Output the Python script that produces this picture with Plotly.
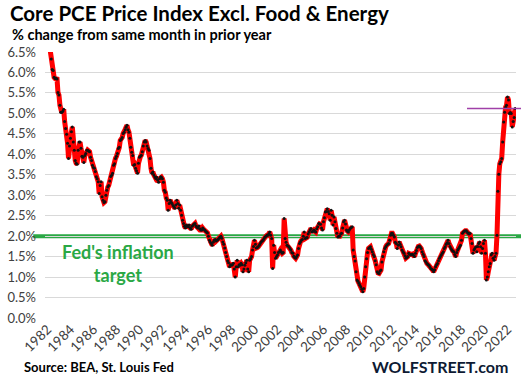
import pandas as pd
import plotly.graph_objects as go

# Core PCE price index excl. food & energy, % change YoY, monthly Jan 1982 - Sep 2022
core_1980s = [
    7.0, 6.85, 6.7, 6.55, 6.33, 6.07, 6.05, 5.88, 5.85, 5.86, 5.84, 5.51,      # 1982
    5.45, 5.2, 5.03, 5.02, 5.05, 5.1, 4.8, 4.63, 4.49, 4.27, 3.9, 4.2,         # 1983
    4.39, 4.55, 4.67, 4.3, 4.1, 3.85, 3.78, 3.76, 4.1, 4.3, 4.3, 4.15,         # 1984
    3.95, 3.93, 3.8, 3.97, 4.02, 4.1, 4.1, 4.08, 4.06, 3.93, 3.85, 3.73,       # 1985
    3.68, 3.66, 3.58, 3.45, 3.4, 3.33, 3.04, 3.24, 3.33, 2.96, 2.88, 2.82,     # 1986
    2.84, 3.0, 3.12, 3.2, 3.24, 3.35, 3.46, 3.49, 3.54, 3.73, 3.77, 3.9,       # 1987
    3.95, 4.02, 4.14, 4.17, 4.34, 4.37, 4.41, 4.51, 4.54, 4.6, 4.66, 4.71,     # 1988
    4.6, 4.54, 4.39, 4.17, 4.05, 3.97, 3.73, 3.75, 3.66, 3.6, 3.54, 3.78,      # 1989
]
core_1990s = [
    3.93, 3.95, 3.98, 4.06, 4.2, 4.3, 4.34, 4.3, 4.2, 4.14, 4.1, 3.9,          # 1990
    3.66, 3.54, 3.57, 3.5, 3.45, 3.41, 3.44, 3.37, 3.32, 3.4, 3.45, 3.44,      # 1991
    3.4, 3.32, 3.12, 3.07, 2.93, 2.88, 2.63, 2.8, 2.88, 2.83, 2.8, 2.75,       # 1992
    2.71, 2.68, 2.76, 2.88, 2.8, 2.68, 2.76, 2.63, 2.51, 2.39, 2.31, 2.24,     # 1993
    2.2, 2.27, 2.24, 2.23, 2.27, 2.2, 2.17, 2.24, 2.27, 2.3, 2.31, 2.25,       # 1994
    2.22, 2.2, 2.25, 2.18, 2.15, 2.15, 2.2, 2.17, 2.15, 2.12, 2.1, 2.08,       # 1995
    2.0, 1.9, 1.85, 1.82, 1.78, 1.85, 1.9, 1.92, 1.88, 1.9, 1.92, 1.95,        # 1996
    1.98, 2.0, 1.95, 1.86, 1.8, 1.71, 1.6, 1.5, 1.4, 1.35, 1.25, 1.3,          # 1997
    1.29, 1.3, 1.34, 1.2, 1.0, 1.25, 1.41, 1.25, 1.3, 1.29, 1.34, 1.3,         # 1998
    1.13, 1.2, 1.29, 1.35, 1.41, 1.2, 1.13, 1.41, 1.45, 1.5, 1.66, 1.75,       # 1999
]
core_2000s = [
    1.9, 1.8, 1.71, 1.72, 1.74, 1.78, 1.82, 1.86, 1.88, 1.9, 1.94, 1.98,       # 2000
    2.0, 2.02, 2.02, 2.06, 2.1, 2.02, 1.94, 1.21, 1.78, 1.6, 1.46, 1.5,        # 2001
    1.54, 1.6, 1.62, 1.66, 1.62, 1.58, 1.6, 2.43, 1.94, 1.85, 1.78, 1.76,      # 2002
    1.74, 1.7, 1.66, 1.6, 1.58, 1.51, 1.48, 1.46, 1.5, 1.54, 1.7, 1.82,        # 2003
    1.86, 1.9, 1.92, 2.0, 2.1, 1.94, 1.96, 1.97, 2.05, 2.1, 2.15, 2.19,        # 2004
    2.1, 2.12, 2.15, 2.12, 2.1, 2.18, 2.23, 2.31, 2.3, 2.29, 2.2, 2.15,        # 2005
    2.35, 2.45, 2.59, 2.6, 2.67, 2.6, 2.55, 2.39, 2.63, 2.51, 2.27, 2.47,      # 2006
    2.35, 2.19, 2.07, 1.98, 2.0, 2.0, 2.05, 2.07, 2.2, 2.35, 2.39, 2.3,        # 2007
    2.15, 2.12, 2.1, 2.15, 2.19, 2.21, 2.23, 1.66, 1.5, 1.39, 1.13, 0.93,      # 2008
    0.9, 0.85, 0.8, 0.76, 0.7, 0.64, 0.72, 1.0, 1.25, 1.45, 1.6, 1.7,          # 2009
]
core_2010s = [
    1.72, 1.74, 1.68, 1.62, 1.55, 1.5, 1.4, 1.3, 1.13, 1.1, 1.09, 1.15,        # 2010
    1.17, 1.37, 1.5, 1.62, 1.7, 1.74, 1.78, 1.8, 1.82, 1.9, 2.02, 2.07,        # 2011
    2.07, 2.02, 1.98, 1.85, 1.82, 1.7, 1.78, 1.86, 1.8, 1.74, 1.66, 1.62,      # 2012
    1.58, 1.52, 1.46, 1.48, 1.5, 1.58, 1.56, 1.54, 1.55, 1.56, 1.53, 1.5,      # 2013
    1.58, 1.65, 1.72, 1.75, 1.76, 1.74, 1.7, 1.62, 1.56, 1.5, 1.4, 1.37,       # 2014
    1.33, 1.31, 1.29, 1.25, 1.21, 1.19, 1.17, 1.13, 1.18, 1.25, 1.3, 1.33,     # 2015
    1.4, 1.46, 1.5, 1.54, 1.58, 1.62, 1.7, 1.74, 1.8, 1.84, 1.9, 1.82,         # 2016
    1.75, 1.7, 1.66, 1.64, 1.62, 1.55, 1.5, 1.6, 1.66, 1.7, 1.74, 1.78,        # 2017
    1.9, 2.07, 2.1, 2.12, 2.13, 2.13, 2.1, 2.07, 2.05, 2.07, 1.94, 1.82,       # 2018
    1.58, 1.66, 1.7, 1.74, 1.62, 1.75, 1.82, 1.86, 1.74, 1.58, 1.7, 1.82,      # 2019
]
core_2020s = [
    1.9, 1.58, 0.93, 1.0, 1.13, 1.25, 1.33, 1.54, 1.58, 1.46, 1.41, 1.5,       # 2020
    1.58, 2.02, 3.1, 3.51, 3.77, 3.82, 3.9, 4.3, 4.79, 5.03, 5.15, 5.2,        # 2021
    5.4, 5.33, 5.0, 5.02, 5.0, 4.67, 4.8, 4.9, 5.12,                           # 2022
]

values = core_1980s + core_1990s + core_2000s + core_2010s + core_2020s
months = pd.date_range("1982-01-01", periods=len(values), freq="MS")

tick_years = list(range(1982, 2023, 2))
tick_dates = [f"{y}-01-01" for y in tick_years]
tick_text = [str(y) for y in tick_years]

FED_TARGET = 2.0
LATEST_LEVEL = 5.12
Y_MAX = 6.5

FONT = "Lato"

fig = go.Figure()
fig.add_trace(go.Scatter(
    x=months, y=values, mode="lines+markers",
    line=dict(color="#ff0000", width=5),
    marker=dict(color="#111111", size=3),
    hoverinfo="skip", showlegend=False,
))

fig.update_layout(
    width=521, height=377,
    margin=dict(l=45, r=5, t=52, b=59, autoexpand=False),
    paper_bgcolor="white", plot_bgcolor="white",
    font=dict(family=FONT, color="#404040"),
    xaxis=dict(
        type="date", range=["1981-10-15", "2022-09-28"],
        tickvals=tick_dates, ticktext=tick_text, tickangle=-45,
        showgrid=False, zeroline=False, showline=False, ticks="",
        tickfont=dict(size=13.5, color="#404040"), automargin=False,
    ),
    yaxis=dict(
        range=[0, Y_MAX], dtick=0.5, tick0=0, tickformat=".1f", ticksuffix="%",
        showgrid=True, gridcolor="#d9d9d9", gridwidth=1,
        zeroline=False, showline=False, ticks="",
        tickfont=dict(size=13, color="#404040"),
        ticklabelstandoff=8, automargin=False,
    ),
    shapes=[
        dict(type="line", xref="paper", yref="paper",
             x0=-0.025, x1=1.02, y0=FED_TARGET / Y_MAX, y1=FED_TARGET / Y_MAX,
             line=dict(color="#2aa845", width=4), layer="between"),
        dict(type="line", xref="paper", yref="paper",
             x0=0.896, x1=1.02, y0=LATEST_LEVEL / Y_MAX, y1=LATEST_LEVEL / Y_MAX,
             line=dict(color="#a040a8", width=1.5), layer="above"),
    ],
    annotations=[
        dict(text="<b>Core PCE Price Index Excl. Food & Energy</b>",
             xref="paper", yref="paper", x=-0.079, y=1.145, xanchor="left", yanchor="middle",
             showarrow=False, font=dict(size=20.5, color="#000000", family=FONT)),
        dict(text="<b>% change from same month in prior year</b>",
             xref="paper", yref="paper", x=-0.075, y=1.064, xanchor="left", yanchor="middle",
             showarrow=False, font=dict(size=14.5, color="#000000", family=FONT)),
        dict(text="<b>Fed's inflation<br>target</b>",
             xref="paper", yref="paper", x=0.155, y=0.205, xanchor="center", yanchor="middle",
             showarrow=False, align="center",
             font=dict(size=18, color="#2aa845", family=FONT)),
        dict(text="<b>Source: BEA, St. Louis Fed</b>",
             xref="paper", yref="paper", x=-0.049, y=-0.184, xanchor="left", yanchor="middle",
             showarrow=False, font=dict(size=13, color="#000000", family=FONT)),
        dict(text="<b>WOLFSTREET.com</b>",
             xref="paper", yref="paper", x=0.8386, y=-0.184, xanchor="center", yanchor="middle",
             showarrow=False, font=dict(size=16, color="#0d1a33", family=FONT)),
    ],
)

fig.write_html(
    "out.html",
    config={"displayModeBar": False},
    post_script="document.body.style.margin='0px';document.body.style.overflow='hidden';",
)
